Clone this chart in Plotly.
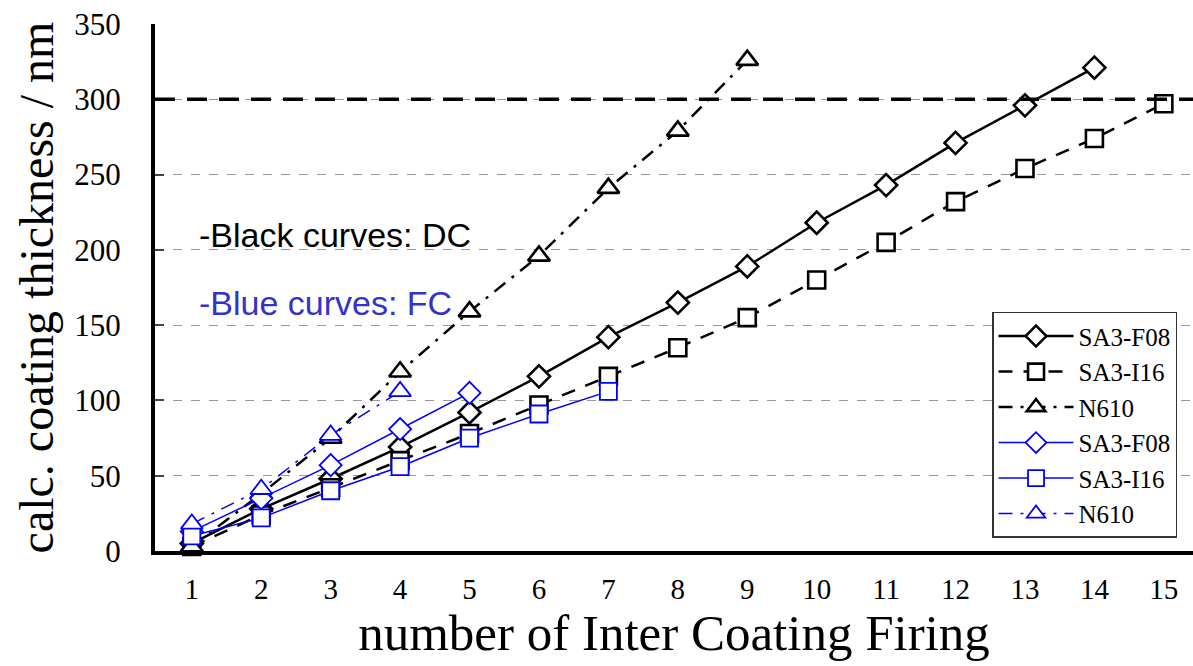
import plotly.graph_objects as go

x_dc_f08 = list(range(1, 15))
dc_f08 = [5, 28, 48, 69, 92, 116, 142, 165, 189, 218, 243, 271, 296, 321]
x_dc_i16 = list(range(1, 16))
dc_i16 = [3, 24, 42, 60, 78, 97, 116, 135, 155, 180, 205, 232, 254, 274, 297]
x_dc_n610 = list(range(1, 10))
dc_n610 = [3, 38, 75, 119, 159, 196, 241, 279, 326]

x_fc_f08 = [1, 2, 3, 4, 5]
fc_f08 = [13, 35, 57, 81, 105]
x_fc_i16 = [1, 2, 3, 4, 5, 6, 7]
fc_i16 = [10, 22, 40, 56, 75, 91, 106]
x_fc_n610 = [1, 2, 3, 4]
fc_n610 = [18, 41, 77, 106]

x_ticks = list(range(1, 16))
y_ticks = [0, 50, 100, 150, 200, 250, 300, 350]

SERIF = "Liberation Serif, Times New Roman, serif"
SANS = "Liberation Sans, Arial, sans-serif"
fig = go.Figure()

def add(x, y, name, color, width, dash, symbol, msize, lw):
    fig.add_trace(go.Scatter(
        x=x, y=y, name=name, mode="lines+markers",
        line=dict(color=color, width=width, dash=dash),
        marker=dict(symbol=symbol, size=msize, color="white",
                    line=dict(color=color, width=lw)),
        cliponaxis=False,
    ))

add(x_dc_f08, dc_f08, "SA3-F08", "black", 2.5, "solid", "diamond", 17, 2.6)
add(x_dc_i16, dc_i16, "SA3-I16", "black", 2.5, "14px,11px", "square", 17, 2.6)
add(x_dc_n610, dc_n610, "N610", "black", 2.5, "14px,8px,3px,8px", "triangle-up", 19, 2.6)
add(x_fc_f08, fc_f08, "SA3-F08", "#0000ff", 1.5, "solid", "diamond", 17, 1.8)
add(x_fc_i16, fc_i16, "SA3-I16", "#0000ff", 1.5, "solid", "square", 17, 1.8)
add(x_fc_n610, fc_n610, "N610", "#0000ff", 1.5, "14px,8px,3px,8px", "triangle-up", 19, 1.8)

fig.add_shape(type="line", xref="paper", x0=0, x1=1, yref="y", y0=300, y1=300,
              line=dict(color="black", width=3.5, dash="20px,12px"), layer="above")

fig.add_annotation(x=0.04, y=210, xref="paper", yref="y", text="-Black curves: DC",
                   showarrow=False, xanchor="left",
                   font=dict(family=SANS, size=34, color="black"))
fig.add_annotation(x=0.04, y=165, xref="paper", yref="y", text="-Blue curves: FC",
                   showarrow=False, xanchor="left",
                   font=dict(family=SANS, size=34, color="#3333cc"))

fig.update_layout(
    width=1193, height=666,
    margin=dict(l=155, r=0, t=24, b=115),
    plot_bgcolor="white", paper_bgcolor="white",
    font=dict(family=SERIF, color="black"),
    showlegend=True,
    legend=dict(x=0.9846, y=0.025, xanchor="right", yanchor="bottom",
                bgcolor="white", bordercolor="#333", borderwidth=1.5,
                font=dict(family=SERIF, size=25), tracegroupgap=0,
                itemwidth=75),
    xaxis=dict(range=[0.47, 15.42], tickvals=x_ticks, ticktext=[str(v) for v in x_ticks],
               showgrid=False, zeroline=False, showline=True, linecolor="black",
               linewidth=4, ticks="", tickfont=dict(size=29), ticklabelstandoff=9,
               title=dict(text="number of Inter Coating Firing", font=dict(size=51), standoff=0)),
    yaxis=dict(range=[0, 350], tickvals=y_ticks, showgrid=True, gridcolor="#999",
               griddash="dash", gridwidth=1, zeroline=False, showline=True,
               linecolor="black", linewidth=4, ticks="inside", ticklen=9, tickwidth=2,
               tickfont=dict(size=31), ticklabelstandoff=24,
               title=dict(text="calc. coating thickness / nm", font=dict(size=48), standoff=6)),
)

fig.write_html("out.html")
